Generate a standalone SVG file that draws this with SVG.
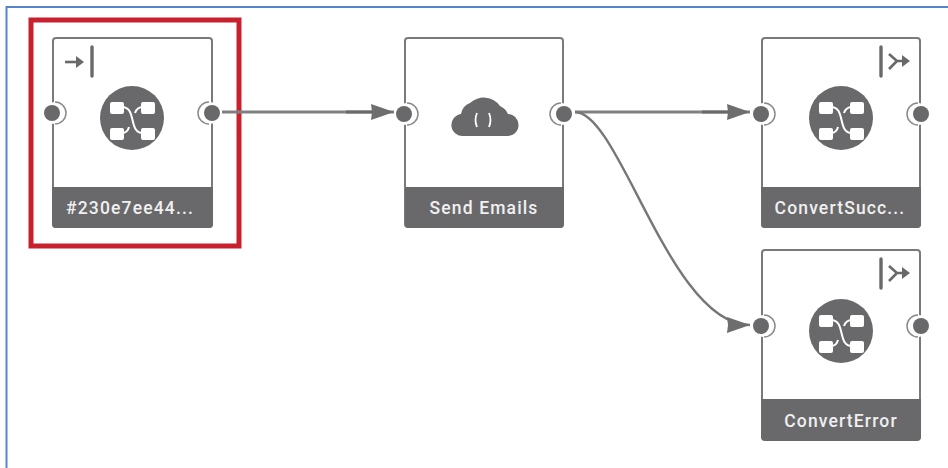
<svg xmlns="http://www.w3.org/2000/svg" width="948" height="468" viewBox="0 0 948 468">
<style>
.card{fill:#fff;stroke:#7a7a7a;stroke-width:2}
.bar{fill:#69696b}
.lbl{font-family:"Roboto","Liberation Sans",sans-serif;font-size:17.5px;font-weight:500;fill:#f0f0f0;text-anchor:middle;letter-spacing:1.15px}
.ring{fill:#fff;stroke:none}
.ringo{fill:none;stroke:#8a8a8a;stroke-width:1.5}
.dot{fill:#69696b}
.disc{fill:#69696b}
.ic{fill:#fff}
.il{fill:none;stroke:#fff;stroke-width:2}
.gl{fill:none;stroke:#69696b;stroke-width:2.6}
.bar2{fill:none;stroke:#69696b;stroke-width:3.4;stroke-linecap:round}
.cn{fill:none;stroke:#808080;stroke-width:2.8}
.cc{fill:none;stroke:#777;stroke-width:2.4}
</style>
<defs>
<marker id="ah" markerUnits="userSpaceOnUse" markerWidth="48" markerHeight="18" refX="48" refY="9" orient="auto">
<path d="M25 1L48 9L25 17L26 9Z" fill="#6e6e6e"/>
<path d="M0 7.5H27V10.5H0Z" fill="#6a6a6a"/>
</marker>
<marker id="ahc" markerUnits="userSpaceOnUse" markerWidth="24" markerHeight="18" refX="24" refY="9" orient="auto">
<path d="M1 1L24 9L1 17L2 9Z" fill="#6e6e6e"/>
</marker>
<g id="sw">
<circle class="disc" cx="0" cy="0" r="32"/>
<rect class="ic" x="-22" y="-16" width="14" height="12" rx="2"/>
<rect class="ic" x="9" y="-16" width="14" height="12" rx="2"/>
<rect class="ic" x="-22" y="10" width="14" height="12" rx="2"/>
<rect class="ic" x="9" y="10" width="14" height="12" rx="2"/>
<path class="il" d="M-10 -11C5 -11 -4 15 11 15M11 -11C6 -11 4 -8 3 -5M-3 9C-4 13 -6 15 -10 15"/>
</g>
<g id="port">
<circle class="ring" cx="0" cy="0" r="11"/>
<path class="ringo" d="M0 -11A11 11 0 0 1 0 11"/>
<circle class="dot" cx="-3" cy="0" r="8"/>
</g>
<g id="portR">
<circle class="ring" cx="0" cy="0" r="11"/>
<path class="ringo" d="M0 -11A11 11 0 0 0 0 11"/>
<circle class="dot" cx="3" cy="0" r="8"/>
</g>
<g id="out">
<path class="bar2" d="M0 0V29"/>
<path class="gl" d="M8 7L16 14L8 22M16 14H26"/>
<path d="M21 8L29 14L21 20Z" fill="#69696b"/>
</g>
</defs>
<path d="M948 7H6.5V468" fill="none" stroke="#5585cc" stroke-width="2"/>
<rect x="31" y="20" width="208" height="226" fill="none" stroke="#c8202f" stroke-width="5"/>
<g id="connectors">
<path class="cn" d="M222 112H394" marker-end="url(#ah)"/>
<path class="cn" d="M575 112H750" marker-end="url(#ah)"/>
<path class="cc" d="M575 112C620 112 670 325 750 325" marker-end="url(#ahc)"/>
</g>
<g id="n1">
<rect class="card" x="53" y="38" width="159" height="189" rx="3"/>
<path class="bar" d="M52 187H213V224a4 4 0 0 1-4 4H56a4 4 0 0 1-4-4Z"/>
<text class="lbl" x="130" y="214">#230e7ee44...</text>
<path class="gl" d="M65 62H80" stroke-width="3"/>
<path d="M76 56L84 62L76 68Z" fill="#69696b"/>
<path class="bar2" d="M92 47V76"/>
<use href="#sw" x="132" y="118"/>
<use href="#port" x="55" y="113"/>
<use href="#portR" x="209" y="113"/>
</g>
<g id="n2">
<rect class="card" x="405" y="38" width="158" height="189" rx="3"/>
<path class="bar" d="M405 187H564V224a4 4 0 0 1-4 4H409a4 4 0 0 1-4-4Z"/>
<text class="lbl" x="484" y="214">Send Emails</text>
<path class="disc" d="M464 136a11 11 0 0 1-3-22a14 14 0 0 1 9-11a20 20 0 0 1 30 3a15 15 0 0 1 8 8a11 11 0 0 1-1 22Z"/>
<path fill="none" stroke="#fff" stroke-width="1.8" d="M477 113q-3 7 0 14M489 113q3 7 0 14"/>
<use href="#port" x="407" y="114"/>
<use href="#portR" x="561" y="114"/>
</g>
<g id="n3">
<rect class="card" x="762" y="38" width="158" height="189" rx="3"/>
<path class="bar" d="M761 187H921V224a4 4 0 0 1-4 4H765a4 4 0 0 1-4-4Z"/>
<text class="lbl" x="840" y="214">ConvertSucc...</text>
<use href="#out" x="881" y="47"/>
<use href="#sw" x="841" y="118"/>
<use href="#port" x="764" y="114"/>
<use href="#portR" x="918" y="114"/>
</g>
<g id="n4">
<rect class="card" x="762" y="250" width="158" height="189" rx="3"/>
<path class="bar" d="M761 399H921V437a4 4 0 0 1-4 4H765a4 4 0 0 1-4-4Z"/>
<text class="lbl" x="841" y="427">ConvertError</text>
<use href="#out" x="881" y="259"/>
<use href="#sw" x="841" y="331"/>
<use href="#port" x="764" y="326"/>
<use href="#portR" x="918" y="326"/>
</g>
</svg>
